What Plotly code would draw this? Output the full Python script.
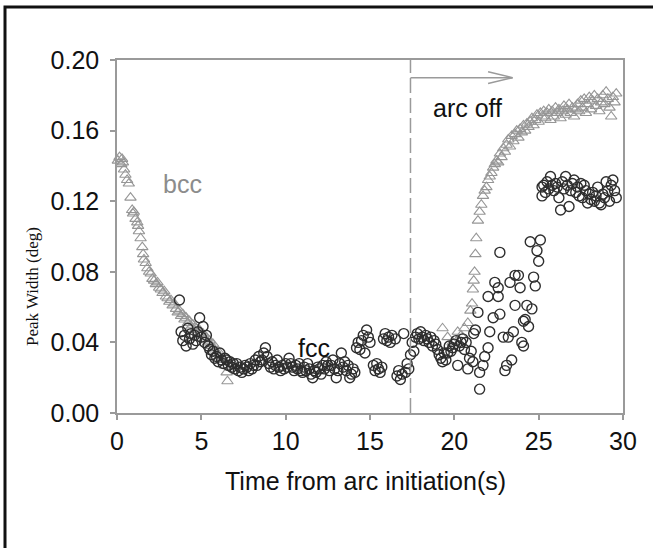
import plotly.graph_objects as go

# ---------------- data ----------------
bcc_time = [0.05, 0.15, 0.25, 0.3, 0.35, 0.42, 0.5, 0.6, 0.7, 0.8, 0.9, 0.95, 1.0, 1.1, 1.2, 1.25, 1.3,
            1.4, 1.5, 1.55, 1.6, 1.7, 1.8, 1.9, 2.0, 2.1, 2.2, 2.3, 2.4, 2.5, 2.6, 2.7, 2.8, 2.9, 3.0,
            3.1, 3.2, 3.3, 3.4, 3.5, 3.6, 3.7, 3.8, 3.9, 4.0, 4.1, 4.2, 4.3, 4.4, 4.5, 4.6, 4.7, 4.8,
            4.9, 5.0, 5.1, 5.2, 5.3, 5.4, 5.5, 5.6, 5.7, 5.8, 5.9, 6.0, 6.1, 6.2, 6.3, 6.4, 6.5, 6.55,
            6.7, 6.9,
            19.3, 19.6, 19.9, 20.2, 20.4, 20.6, 20.8, 20.95, 21.05, 21.1, 21.15, 21.2, 21.25, 21.3,
            21.4, 21.5, 21.6, 21.7, 21.8, 21.9, 22.0, 22.1, 22.2, 22.3, 22.4, 22.5, 22.6, 22.7, 22.8,
            22.9, 23.0, 23.1, 23.2, 23.3, 23.4, 23.5, 23.6, 23.7, 23.8, 23.9, 24.0, 24.1, 24.2, 24.3,
            24.4, 24.5, 24.6, 24.7, 24.8, 24.9, 25.0, 25.1, 25.2, 25.3, 25.4, 25.5, 25.6, 25.7, 25.8,
            25.9, 26.0, 26.1, 26.2, 26.3, 26.4, 26.5, 26.6, 26.7, 26.8, 26.9, 27.0, 27.1, 27.2, 27.3,
            27.4, 27.5, 27.6, 27.7, 27.8, 27.9, 28.0, 28.1, 28.2, 28.3, 28.4, 28.5, 28.6, 28.7, 28.8,
            28.9, 29.0, 29.1, 29.2, 29.3, 29.4, 29.5, 29.6]
bcc_width = [0.143, 0.145, 0.141, 0.144, 0.142, 0.138, 0.135, 0.132, 0.130, 0.122, 0.115, 0.113, 0.114, 0.110, 0.108, 0.106, 0.103,
             0.099, 0.094, 0.090, 0.087, 0.085, 0.082, 0.080, 0.079, 0.076, 0.075, 0.073, 0.074, 0.071, 0.070, 0.068, 0.069, 0.066, 0.065,
             0.063, 0.064, 0.061, 0.062, 0.059, 0.057, 0.058, 0.055, 0.056, 0.053, 0.054, 0.051, 0.052, 0.049, 0.050, 0.047, 0.048, 0.046,
             0.047, 0.044, 0.045, 0.042, 0.043, 0.040, 0.041, 0.038, 0.039, 0.036, 0.034, 0.035, 0.032, 0.030, 0.031, 0.027, 0.023, 0.018,
             0.026, 0.028,
             0.048, 0.043, 0.040, 0.046, 0.044, 0.048, 0.051, 0.058, 0.062, 0.070, 0.075, 0.080, 0.090, 0.099,
             0.109, 0.114, 0.118, 0.123, 0.126, 0.128, 0.132, 0.134, 0.136, 0.139, 0.141, 0.143, 0.142, 0.147, 0.145,
             0.150, 0.148, 0.152, 0.155, 0.151, 0.157, 0.154, 0.158, 0.160, 0.156, 0.161, 0.159, 0.163, 0.160, 0.164,
             0.162, 0.165, 0.167, 0.163, 0.166, 0.169, 0.165, 0.170, 0.168, 0.171, 0.167, 0.170, 0.172, 0.166, 0.171,
             0.168, 0.173, 0.170, 0.172, 0.167, 0.171, 0.174, 0.169, 0.172, 0.175, 0.170, 0.173, 0.168, 0.172, 0.175,
             0.171, 0.177, 0.173, 0.178, 0.170, 0.175, 0.179, 0.172, 0.177, 0.180, 0.174, 0.178, 0.171, 0.176, 0.180,
             0.175, 0.182, 0.178, 0.173, 0.168, 0.179, 0.176, 0.181]

fcc_time = [3.7, 3.8, 3.9, 4.0, 4.1, 4.2, 4.3, 4.4, 4.5, 4.6, 4.7, 4.8, 4.9, 5.0, 5.1, 5.2, 5.3, 5.4, 5.5,
            5.6, 5.7, 5.8, 5.9, 6.0, 6.1, 6.2, 6.3, 6.4, 6.5, 6.6, 6.7, 6.8, 6.9, 7.0, 7.1, 7.2, 7.3,
            7.4, 7.5, 7.6, 7.7, 7.8, 7.9, 8.0, 8.1, 8.2, 8.3, 8.4, 8.5, 8.6, 8.7, 8.8, 8.9, 9.0, 9.1,
            9.2, 9.3, 9.4, 9.5, 9.6, 9.7, 9.8, 9.9, 10.0, 10.1, 10.2, 10.3, 10.4, 10.5, 10.6, 10.7,
            10.8, 10.9, 11.0, 11.1, 11.2, 11.3, 11.4, 11.5, 11.6, 11.7, 11.8, 11.9, 12.0, 12.1, 12.2,
            12.3, 12.4, 12.5, 12.6, 12.7, 12.8, 12.9, 13.0, 13.1, 13.2, 13.3, 13.4, 13.5, 13.6, 13.7,
            13.8, 13.9, 14.0, 14.1, 14.2, 14.3, 14.4, 14.5, 14.6, 14.7, 14.8, 14.9, 15.0, 15.2, 15.3,
            15.4, 15.5, 15.6, 15.7, 15.8, 15.9, 16.0, 16.1, 16.2, 16.3, 16.5, 16.6, 16.7, 16.8, 16.9,
            17.0, 17.1, 17.2, 17.3, 17.4, 17.5, 17.6, 17.7, 17.8, 17.9, 18.0, 18.1, 18.2, 18.3, 18.4,
            18.5, 18.6, 18.7, 18.8, 18.9, 19.0, 19.1, 19.2, 19.3, 19.4, 19.5, 19.6, 19.7, 19.8, 19.9,
            20.0, 20.1, 20.2, 20.3, 20.4, 20.5, 20.6, 20.7, 20.8, 20.9, 21.0, 21.1, 21.15, 21.25, 21.4,
            21.5, 21.5, 21.7, 21.8, 22.0, 22.0, 22.1, 22.3, 22.4, 22.6, 22.6, 22.7, 22.7, 22.9, 23.0,
            23.1, 23.2, 23.3, 23.4, 23.5, 23.6, 23.6, 23.8, 23.9, 24.0, 24.1, 24.1, 24.2, 24.3, 24.4,
            24.6, 24.7, 24.8, 24.5, 25.1, 24.9, 25.0,
            25.2, 25.2, 25.3, 25.4, 25.5, 25.6, 25.7, 25.8, 25.9, 26.0, 26.1, 26.2, 26.3, 26.4, 26.5,
            26.6, 26.7, 26.8, 26.9, 27.0, 27.1, 27.2, 27.3, 27.4, 27.5, 27.6, 27.7, 27.8, 27.9, 28.0,
            28.1, 28.2, 28.3, 28.4, 28.5, 28.6, 28.7, 28.8, 28.9, 29.0, 29.1, 29.2, 29.3, 29.4, 29.5,
            29.6]
fcc_width = [0.064, 0.046, 0.041, 0.044, 0.038, 0.048, 0.042, 0.045, 0.039, 0.044, 0.041, 0.046, 0.054, 0.043, 0.049, 0.040, 0.044, 0.038, 0.036,
             0.033, 0.035, 0.031, 0.032, 0.029, 0.034, 0.030, 0.028, 0.031, 0.030, 0.027, 0.029, 0.026, 0.028, 0.025, 0.028, 0.024, 0.026,
             0.023, 0.025, 0.027, 0.026, 0.024, 0.028, 0.025, 0.027, 0.030, 0.027, 0.032, 0.029, 0.030, 0.034, 0.037, 0.032, 0.028, 0.026,
             0.029, 0.025, 0.027, 0.030, 0.026, 0.024, 0.027, 0.025, 0.028, 0.026, 0.031, 0.028, 0.026, 0.024, 0.027, 0.025,
             0.028, 0.024, 0.023, 0.026, 0.024, 0.028, 0.025, 0.022, 0.020, 0.024, 0.023, 0.026, 0.025, 0.022, 0.027,
             0.025, 0.029, 0.027, 0.024, 0.027, 0.030, 0.025, 0.020, 0.024, 0.028, 0.034, 0.026, 0.029, 0.024, 0.027,
             0.020, 0.022, 0.025, 0.023, 0.037, 0.040, 0.036, 0.041, 0.044, 0.034, 0.047, 0.043, 0.040, 0.027, 0.024,
             0.028, 0.025, 0.023, 0.026, 0.042, 0.045, 0.041, 0.043, 0.040, 0.044, 0.042, 0.021, 0.024, 0.019, 0.022,
             0.045, 0.023, 0.028, 0.025, 0.033, 0.040, 0.035, 0.043, 0.045, 0.042, 0.046, 0.043, 0.041, 0.044, 0.042,
             0.040, 0.043, 0.038, 0.041, 0.039, 0.036, 0.033, 0.031, 0.029, 0.034, 0.030, 0.034, 0.038, 0.035, 0.037,
             0.039, 0.041, 0.027, 0.038, 0.040, 0.042, 0.036, 0.040, 0.025, 0.031, 0.035, 0.029, 0.045, 0.047, 0.057,
             0.023, 0.0135, 0.027, 0.032, 0.037, 0.066, 0.046, 0.054, 0.074, 0.071, 0.066, 0.091, 0.056, 0.043, 0.024,
             0.027, 0.043, 0.074, 0.030, 0.046, 0.061, 0.078, 0.078, 0.071, 0.040, 0.038, 0.052, 0.053, 0.061, 0.049,
             0.059, 0.077, 0.072, 0.097, 0.098, 0.092, 0.086,
             0.128, 0.123, 0.129, 0.125, 0.131, 0.127, 0.134, 0.129, 0.126, 0.130, 0.128, 0.122, 0.115, 0.131, 0.127,
             0.134, 0.129, 0.117, 0.126, 0.130, 0.132, 0.125, 0.128, 0.123, 0.130, 0.122, 0.129, 0.126, 0.119, 0.124,
             0.121, 0.125, 0.120, 0.123, 0.128, 0.119, 0.118, 0.124, 0.122, 0.131, 0.126, 0.120, 0.129, 0.132, 0.126,
             0.122]

y_ticks = [0.00, 0.04, 0.08, 0.12, 0.16, 0.20]
y_tick_labels = ["0.00", "0.04", "0.08", "0.12", "0.16", "0.20"]
x_ticks = [0, 5, 10, 15, 20, 25, 30]

arc_off_time = 17.4
arrow_end_time = 23.45
arrow_level = 0.190
arrow_head_back = 1.45
arrow_head_half = 0.0033

# ---------------- figure ----------------
W, H = 653, 548
ML, MR, MT, MB = 117, 30, 60, 135
pw, ph = W - ML - MR, H - MT - MB


def px_x(p):
    return (p - ML) / pw


def px_y(p):
    return (H - MB - p) / ph


FONT = "Liberation Sans, Arial"
FS = 25

fig = go.Figure()
fig.add_trace(go.Scatter(
    x=bcc_time, y=bcc_width, mode="markers", name="bcc",
    marker=dict(symbol="triangle-up-open", size=10, color="#969696", line=dict(width=1.1)),
    cliponaxis=False,
))
fig.add_trace(go.Scatter(
    x=fcc_time, y=fcc_width, mode="markers", name="fcc",
    marker=dict(symbol="circle-open", size=10, color="#2e2e2e", line=dict(width=1.4)),
    cliponaxis=False,
))

grey = "#9a9a9a"
shapes = [
    # dashed "arc off" line
    dict(type="line", xref="x", yref="y", x0=arc_off_time, x1=arc_off_time, y0=0, y1=0.20,
         line=dict(color=grey, width=1.5, dash="15px,5px")),
    # arrow shaft
    dict(type="line", xref="x", yref="y", x0=arc_off_time, x1=arrow_end_time, y0=arrow_level, y1=arrow_level,
         line=dict(color=grey, width=1.5)),
    dict(type="line", xref="x", yref="y", x0=arrow_end_time - arrow_head_back, x1=arrow_end_time,
         y0=arrow_level + arrow_head_half, y1=arrow_level, line=dict(color=grey, width=1.5)),
    dict(type="line", xref="x", yref="y", x0=arrow_end_time - arrow_head_back, x1=arrow_end_time,
         y0=arrow_level - arrow_head_half, y1=arrow_level, line=dict(color=grey, width=1.5)),
    # outer picture frame
    dict(type="rect", xref="paper", yref="paper", x0=px_x(5), x1=px_x(W + 20), y0=px_y(H + 20), y1=px_y(7),
         line=dict(color="#111111", width=3), layer="above"),
]

annotations = [
    dict(text="bcc", x=3.9, y=0.130, xref="x", yref="y", showarrow=False,
         font=dict(family=FONT, size=FS, color="#8c8c8c")),
    dict(text="fcc", x=11.7, y=0.037, xref="x", yref="y", showarrow=False,
         font=dict(family=FONT, size=FS, color="#111111")),
    dict(text="arc off", x=20.8, y=0.173, xref="x", yref="y", showarrow=False,
         font=dict(family=FONT, size=FS, color="#111111")),
    dict(text="Time from arc initiation(s)", x=px_x(365), y=px_y(481), xref="paper", yref="paper",
         showarrow=False, xanchor="center", yanchor="middle",
         font=dict(family=FONT, size=FS, color="#111111")),
    dict(text="Peak Width (deg)", x=px_x(32), y=px_y(287), xref="paper", yref="paper",
         showarrow=False, xanchor="center", yanchor="middle", textangle=-90,
         font=dict(family="Liberation Serif, Times New Roman", size=17, color="#111111")),
]

fig.update_layout(
    width=W, height=H,
    margin=dict(l=ML, r=MR, t=MT, b=MB),
    paper_bgcolor="white", plot_bgcolor="white",
    showlegend=False,
    shapes=shapes,
    annotations=annotations,
    font=dict(family=FONT, color="#111111"),
)
fig.update_xaxes(
    range=[0, 30], tickvals=x_ticks, ticks="outside", ticklen=5, tickcolor=grey, tickwidth=1.5,
    showline=True, linecolor=grey, linewidth=1.5, mirror=True, showgrid=False, zeroline=False,
    tickfont=dict(family=FONT, size=FS, color="#111111"),
)
fig.update_yaxes(
    range=[0, 0.20], tickvals=y_ticks, ticktext=y_tick_labels, ticks="outside", ticklen=5,
    tickcolor=grey, tickwidth=1.5, ticklabelstandoff=6,
    showline=True, linecolor=grey, linewidth=1.5, mirror=True, showgrid=False, zeroline=False,
    tickfont=dict(family=FONT, size=FS, color="#111111"),
)

fig.write_html("out.html")
